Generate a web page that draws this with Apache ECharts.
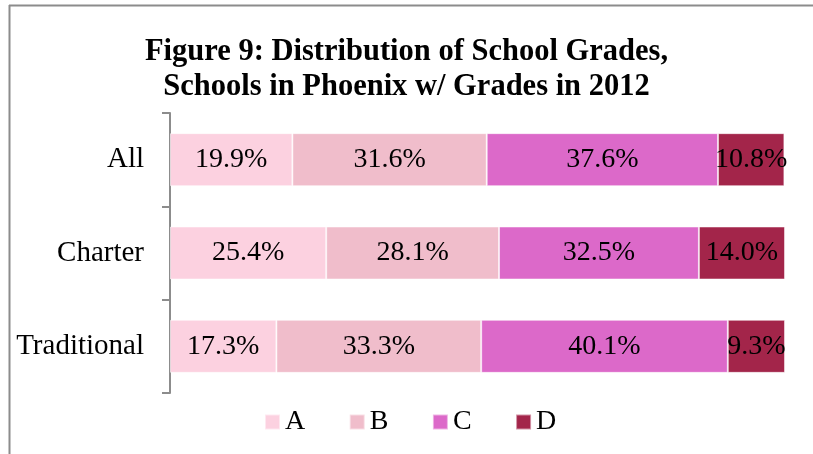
<!DOCTYPE html>
<html>
<head>
<meta charset="utf-8">
<script src="https://cdn.jsdelivr.net/npm/echarts@6/dist/echarts.min.js"></script>
<style>
  html, body { margin: 0; padding: 0; background: #fff; }
  #chart { width: 813px; height: 454px; }
</style>
</head>
<body>
<div id="chart"></div>
<script>
// school types, top to bottom
var categories = ['All', 'Charter', 'Traditional'];
var grades = ['A', 'B', 'C', 'D'];
// percent of schools per grade
var gradeA = [19.9, 25.4, 17.3];
var gradeB = [31.6, 28.1, 33.3];
var gradeC = [37.6, 32.5, 40.1];
var gradeD = [10.8, 14.0, 9.3];
var colors = ['#fcd1e0', '#f0bdcb', '#dc69c9', '#a3254a'];

var serif = '"Liberation Serif", "DejaVu Serif", serif';
var values = [gradeA, gradeB, gradeC, gradeD];

var series = grades.map(function (g, i) {
    return {
        name: g,
        type: 'bar',
        stack: 'total',
        barWidth: 53,
        data: values[i],
        itemStyle: {
            color: colors[i],
            borderColor: 'rgba(255,255,255,0.5)',
            borderWidth: 1
        },
        label: {
            show: true,
            position: 'inside',
            color: '#000',
            fontFamily: serif,
            fontSize: 28,
            formatter: function (p) {
                return p.value.toFixed(1) + '%';
            }
        }
    };
});

var option = {
    animation: false,
    backgroundColor: '#fff',
    title: {
        text: 'Figure 9: Distribution of School Grades,\nSchools in Phoenix w/ Grades in 2012',
        left: 'center',
        top: 30,
        textStyle: {
            fontFamily: serif,
            fontWeight: 'bold',
            fontSize: 30.5,
            lineHeight: 35,
            color: '#000'
        }
    },
    legend: {
        data: grades,
        left: 259,
        top: 403,
        itemWidth: 15,
        itemHeight: 15,
        itemGap: 43.5,
        icon: 'rect',
        textStyle: {
            fontFamily: serif,
            fontSize: 28,
            color: '#000'
        }
    },
    grid: {
        left: 170,
        right: 28,
        top: 113,
        bottom: 61
    },
    xAxis: {
        type: 'value',
        min: 0,
        max: 100,
        show: false
    },
    yAxis: {
        type: 'category',
        data: categories,
        inverse: true,
        axisLine: { show: true, lineStyle: { color: '#8c8c8c', width: 2 } },
        axisTick: { show: true, length: 8, lineStyle: { color: '#8c8c8c', width: 2 } },
        axisLabel: {
            margin: 26,
            fontFamily: serif,
            fontSize: 29,
            color: '#000'
        }
    },
    graphic: [
        { type: 'line', shape: { x1: 9, y1: 5.5, x2: 813, y2: 5.5 }, style: { stroke: '#8c8c8c', lineWidth: 2 } },
        { type: 'line', shape: { x1: 9.5, y1: 5, x2: 9.5, y2: 454 }, style: { stroke: '#8c8c8c', lineWidth: 2 } }
    ],
    series: series
};

var chart = echarts.init(document.getElementById('chart'));
chart.setOption(option);
</script>
</body>
</html>
